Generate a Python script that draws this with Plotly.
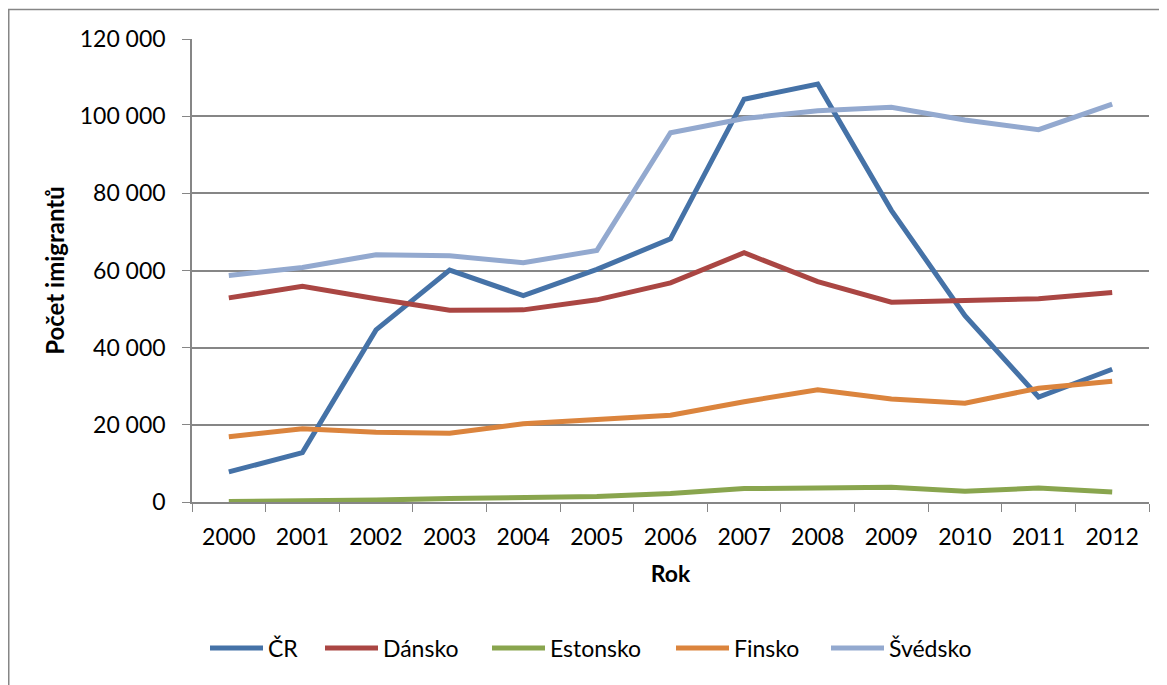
import plotly.graph_objects as go

years = [str(y) for y in range(2000, 2013)]
cr = [7800, 12800, 44600, 60100, 53500, 60300, 68200, 104400, 108300, 75600, 48300, 27200, 34400]
dansko = [52900, 55900, 52700, 49700, 49800, 52400, 56800, 64600, 57100, 51800, 52200, 52700, 54300]
estonsko = [100, 200, 500, 900, 1100, 1400, 2200, 3500, 3600, 3800, 2800, 3600, 2600]
finsko = [16900, 19000, 18100, 17800, 20300, 21300, 22500, 26000, 29100, 26700, 25600, 29500, 31300]
svedsko = [58700, 60800, 64100, 63800, 62000, 65200, 95700, 99400, 101400, 102300, 99000, 96500, 103100]

series = [
    ("ČR", cr, "#4572A7"),
    ("Dánsko", dansko, "#AA4643"),
    ("Estonsko", estonsko, "#89A54E"),
    ("Finsko", finsko, "#DB843D"),
    ("Švédsko", svedsko, "#93A9CF"),
]
legend_px = [212, 327, 494, 678, 833]  # left pixel of each legend line sample

font = "Lato, Carlito, Calibri, sans-serif"
axis_col = "#868686"

# page body has 8px margin -> compensate
OFF = 8
L, R, T, B = 192, 1149, 39, 502
W, H = 1167, 685

def px_x(p):
    return (p - L) / (R - L)

def px_y(p):
    return (B - p) / (B - T)

fig = go.Figure()
legends = {}
for i, (name, vals, col) in enumerate(series):
    key = "legend" if i == 0 else f"legend{i+1}"
    fig.add_trace(go.Scatter(x=years, y=vals, name=name, mode="lines",
                             line=dict(color=col, width=5), legend=key))
    legends[key] = dict(orientation="h", x=px_x(legend_px[i] - 7), xanchor="left",
                        y=px_y(648), yanchor="middle", font=dict(size=23),
                        itemwidth=53, bgcolor="rgba(0,0,0,0)")

fig.update_layout(
    width=W, height=H,
    margin=dict(l=L - OFF, r=W - R + OFF, t=T - OFF, b=H - B + OFF, autoexpand=False),
    paper_bgcolor="white", plot_bgcolor="white",
    separators=", ",
    font=dict(family=font, size=23, color="black"),
    showlegend=True,
    xaxis=dict(type="category", range=[-0.5, 12.5], showline=True, linecolor=axis_col,
               linewidth=1.5, ticks="outside", tickson="boundaries", ticklen=8,
               tickcolor=axis_col, showgrid=False, ticklabelstandoff=14,
               title=dict(text="<b>Rok</b>", standoff=17, font=dict(size=23))),
    yaxis=dict(range=[0, 120000], dtick=20000, tickformat=",d", showline=True,
               linecolor=axis_col, linewidth=1.5, ticks="outside", ticklen=8,
               tickcolor=axis_col, showgrid=True, gridcolor=axis_col, gridwidth=1.5,
               zeroline=False, ticklabelstandoff=12,
               title=dict(text="<b>Počet imigrantů</b>", standoff=8, font=dict(size=24))),
    shapes=[dict(type="rect", xref="paper", yref="paper",
                 x0=px_x(OFF + 0.75), x1=px_x(1180), y0=px_y(700), y1=px_y(9.5),
                 line=dict(color=axis_col, width=1.5), fillcolor="rgba(0,0,0,0)", layer="above")],
    **legends,
)

fig.write_html("out.html")
